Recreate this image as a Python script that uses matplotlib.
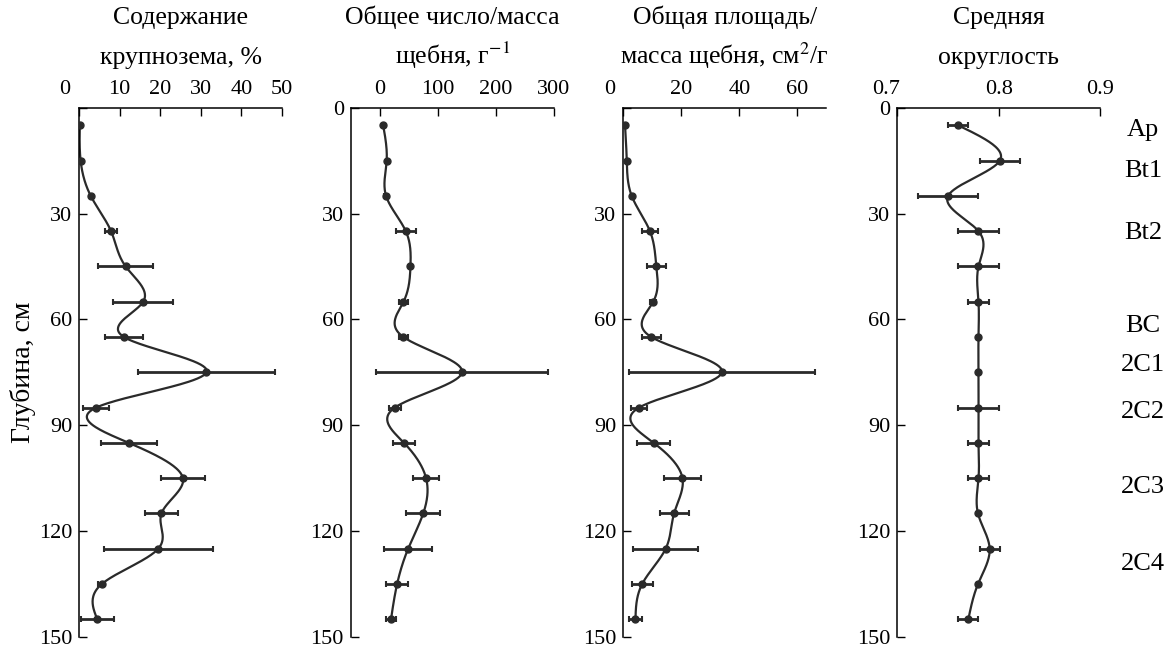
import numpy as np
import matplotlib
matplotlib.use("Agg")
import matplotlib.pyplot as plt
import matplotlib.transforms as mtransforms

plt.rcParams["font.family"] = ["Liberation Serif", "DejaVu Serif"]
plt.rcParams["mathtext.fontset"] = "stix"
plt.rcParams["font.size"] = 16

# ── Data ──────────────────────────────────────────────────────────────────────
nan = np.nan
depth = [5, 15, 25, 35, 45, 55, 65, 75, 85, 95, 105, 115, 125, 135, 145]

coarse     = [0.2, 0.4, 2.9, 7.9, 11.5, 15.8, 11.1, 31.4, 4.2, 12.3, 25.6, 20.3, 19.5, 5.6, 4.5]
coarse_err = [nan, nan, nan, 1.4, 6.8, 7.4, 4.6, 16.8, 3.1, 6.8, 5.4, 4.1, 13.4, 0.9, 4.0]

count      = [6, 12, 11, 45, 53, 41, 41, 142, 26, 42, 80, 75, 49, 30, 19.5]
count_err  = [nan, nan, 4, 17, nan, 7, 7, 149, 10, 19, 22, 29, 41, 19, 8]

area       = [0.6, 1.2, 2.9, 9.2, 11.4, 10.3, 9.7, 34.0, 5.4, 10.5, 20.4, 17.5, 14.6, 6.5, 4.2]
area_err   = [nan, nan, nan, 2.6, 3.3, 1.0, 3.3, 32.2, 2.9, 5.7, 6.3, 5.0, 11.3, 3.6, 2.2]

round_     = [0.760, 0.801, 0.750, 0.780, 0.780, 0.780, 0.780, 0.780, 0.780, 0.780, 0.780,
              0.7795, 0.791, 0.7795, 0.770]
round_err  = [0.010, 0.020, 0.030, 0.020, 0.020, 0.010, nan, nan, 0.020, 0.010, 0.010,
              nan, 0.010, nan, 0.010]

horizons       = ["Ap", "Bt1", "Bt2", "BC", "2C1", "2C2", "2C3", "2C4"]
horizon_depths = [6.3, 17.8, 35.5, 62, 73, 86.3, 107.6, 129.4]

titles = [
    ("Содержание", "крупнозема, %"),
    ("Общее число/масса", "щебня, г$^{-1}$"),
    ("Общая площадь/", "масса щебня, см$^{2}$/г"),
    ("Средняя", "округлость"),
]
xlims   = [(0, 50), (-50, 300), (0, 70), (0.7, 0.9)]
xticks  = [[0, 10, 20, 30, 40, 50], [0, 100, 200, 300], [0, 20, 40, 60], [0.7, 0.8, 0.9]]
xlabels = [["0", "10", "20", "30", "40", "50"], ["0", "100", "200", "300"],
           ["0", "20", "40", "60"], ["0.7", "0.8", "0.9"]]
yticks_all = [0, 30, 60, 90, 120, 150]

INK = "#2a2a2a"
W, H = 1168, 650
AX_LEFT = [79, 350.7, 623.3, 897.3]   # px
AX_W = 203
AX_TOP, AX_BOT = 107.7, 637.0
TITLE_BASE = [24, 64]                 # px from top, baselines of the two title lines


def spline(y, x, n=600):
    """natural cubic spline x(y) through the points"""
    y = np.asarray(y, float)
    x = np.asarray(x, float)
    k = len(y)
    h = np.diff(y)
    A = np.zeros((k, k))
    b = np.zeros(k)
    A[0, 0] = A[-1, -1] = 1
    for i in range(1, k - 1):
        A[i, i - 1] = h[i - 1]
        A[i, i] = 2 * (h[i - 1] + h[i])
        A[i, i + 1] = h[i]
        b[i] = 6 * ((x[i + 1] - x[i]) / h[i] - (x[i] - x[i - 1]) / h[i - 1])
    M = np.linalg.solve(A, b)
    yy = np.linspace(y[0], y[-1], n)
    j = np.clip(np.searchsorted(y, yy) - 1, 0, k - 2)
    hh = y[j + 1] - y[j]
    t1 = y[j + 1] - yy
    t0 = yy - y[j]
    xx = (M[j] * t1**3 + M[j + 1] * t0**3) / (6 * hh) \
        + (x[j] / hh - M[j] * hh / 6) * t1 + (x[j + 1] / hh - M[j + 1] * hh / 6) * t0
    return xx, yy


fig = plt.figure(figsize=(W / 100, H / 100), dpi=100)

series = [(coarse, coarse_err), (count, count_err), (area, area_err), (round_, round_err)]

for i, (vals, errs) in enumerate(series):
    ax = fig.add_axes([AX_LEFT[i] / W, (H - AX_BOT) / H, AX_W / W, (AX_BOT - AX_TOP) / H])

    xs, ys = spline(depth, vals)
    ax.plot(xs, ys, color=INK, lw=1.6, zorder=2)
    ax.errorbar(vals, depth, xerr=np.asarray(errs, float), fmt="o", color=INK,
                ms=5, elinewidth=2, capsize=2.5, capthick=1.5, zorder=3)

    ax.set_xlim(*xlims[i])
    ax.set_ylim(150, 0)
    ax.spines[["right", "bottom"]].set_visible(False)
    ax.spines[["left", "top"]].set_linewidth(1.1)

    ax.xaxis.tick_top()
    ax.set_xticks(xticks[i])
    ax.set_xticklabels(xlabels[i])
    ax.set_yticks(yticks_all)
    ylab = [str(v) for v in yticks_all]
    if i in (0, 2):
        ylab[0] = ""
    ax.set_yticklabels(ylab)
    ax.tick_params(axis="x", direction="in", length=6, width=1, pad=6, top=True, bottom=False)
    ax.tick_params(axis="y", direction="in", length=6, width=1, pad=5, right=False)

    # first x label sits left of the spine in the original
    shift = -11 if i == 3 else -14
    if i != 1:
        lab = ax.xaxis.get_major_ticks()[0].label2
        lab.set_transform(lab.get_transform() +
                          mtransforms.ScaledTranslation(shift / 100, 0, fig.dpi_scale_trans))

    # two-line title, lines placed separately so all panels line up
    tr = mtransforms.blended_transform_factory(ax.transAxes, fig.transFigure)
    for line, base in zip(titles[i], TITLE_BASE):
        ax.text(0.5, 1 - base / H, line, transform=tr, ha="center", va="baseline",
                fontsize=18.5, clip_on=False)

    if i == 0:
        ax.set_ylabel("Глубина, см", fontsize=20, labelpad=2)

    if i == 3:
        for name, d in zip(horizons, horizon_depths):
            ax.text(1.21, d, name, transform=ax.get_yaxis_transform(),
                    ha="center", va="center", fontsize=19, clip_on=False)

fig.savefig("out.png", dpi=100, facecolor="white")
